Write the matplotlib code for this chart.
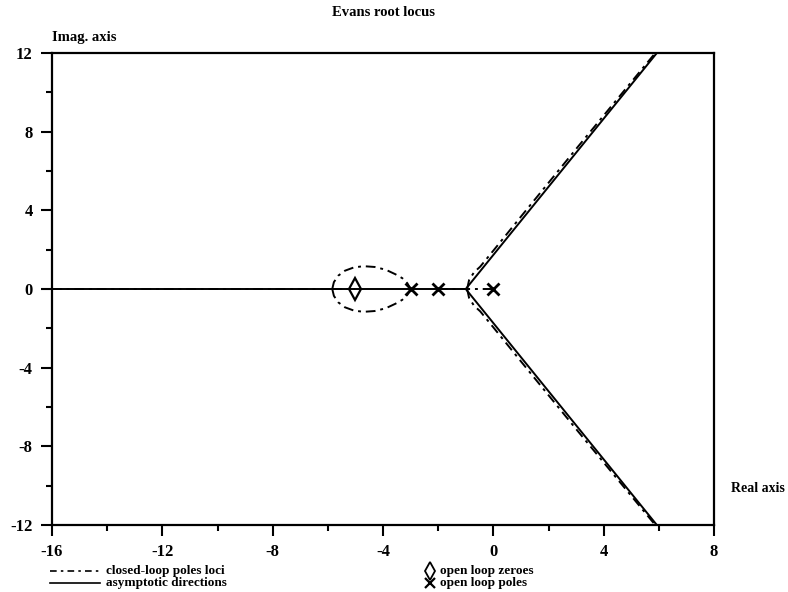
import numpy as np
import matplotlib
matplotlib.use("Agg")
import matplotlib.pyplot as plt
from matplotlib.ticker import MultipleLocator

plt.rcParams['font.family'] = ['Liberation Serif', 'DejaVu Serif']
plt.rcParams['font.weight'] = 'bold'
plt.rcParams['axes.unicode_minus'] = False

# open loop poles / zeros
poles_re = [0, -2, -3]
poles_im = [0, 0, 0]
zeros_re = [-5]
zeros_im = [0]

# loci (upper half, mirrored for lower)
loop_x = [-5.84, -5.78, -5.62, -5.38, -5.05, -4.7, -4.3, -3.9, -3.55, -3.3, -3.12, -3.0]
loop_y = [0.0, 0.35, 0.68, 0.93, 1.1, 1.16, 1.12, 0.98, 0.75, 0.55, 0.3, 0.0]
branch_x = [-0.95, -0.88, -0.7, -0.48, 0.0, 1.0, 2.0, 3.0, 4.0, 5.0, 6.0]
branch_y = [0.0, 0.45, 0.85, 1.13, 1.95, 3.68, 5.4, 7.12, 8.82, 10.52, 12.22]
real_segs = [(-16, -5.84), (-5.84, -5.0), (-2.0, 0.0)]

# asymptotes
asym_center = -1.0
asym_angles = [60, 180, -60]
asym_len = 16

fig = plt.figure(figsize=(7.88, 5.92), dpi=100)
ax = fig.add_axes([52/788, 1-525/592, 662/788, 472/592])

lw = 1.4
dashdot = (0, (5, 2.5, 1.5, 2.5))
for a in asym_angles:
    t = np.deg2rad(a)
    ax.plot([asym_center, asym_center + asym_len*np.cos(t)],
            [0, asym_len*np.sin(t)], color='black', lw=lw, solid_capstyle='butt')

ax.plot(loop_x, loop_y, color='black', lw=lw, ls=dashdot)
ax.plot(loop_x, -np.array(loop_y), color='black', lw=lw, ls=dashdot)
ax.plot(branch_x, branch_y, color='black', lw=lw, ls=dashdot)
ax.plot(branch_x, -np.array(branch_y), color='black', lw=lw, ls=dashdot)
for a, b in real_segs:
    ax.plot([a, b], [0, 0], color='black', lw=lw, ls=dashdot)

ax.plot(zeros_re, zeros_im, ls='none', marker='d', ms=11, mfc='none', mec='black', mew=1.6)
ax.plot(poles_re, poles_im, ls='none', marker='x', ms=9, mec='black', mew=2)

ax.set_xlim(-16, 8)
ax.set_ylim(-12, 12)
ax.xaxis.set_major_locator(MultipleLocator(4))
ax.xaxis.set_minor_locator(MultipleLocator(2))
ax.yaxis.set_major_locator(MultipleLocator(4))
ax.yaxis.set_minor_locator(MultipleLocator(2))
ax.tick_params(which='major', direction='out', length=8, width=1.5, labelsize=12, pad=6)
ax.tick_params(which='minor', direction='out', length=4, width=1.5)
for s in ax.spines.values():
    s.set_linewidth(1.6)
for lab in ax.get_xticklabels() + ax.get_yticklabels():
    lab.set_fontweight('bold')

fig.text(383/788, 1-12/592, 'Evans root locus', ha='center', va='center', fontsize=10.5, fontweight='bold')
fig.text(52/788, 1-38/592, 'Imag. axis', ha='left', va='center', fontsize=10.5, fontweight='bold')
fig.text(731/788, 1-489/592, 'Real axis', ha='left', va='center', fontsize=10, fontweight='bold')

# legend drawn at the bottom
ly1 = 1-571/592
ly2 = 1-583/592
fig.add_artist(plt.Line2D([50/788, 100/788], [ly1, ly1], color='black', lw=1.2, ls=(0, (4, 2.5, 1.5, 2.5))))
fig.add_artist(plt.Line2D([50/788, 100/788], [ly2, ly2], color='black', lw=1.2))
fig.text(106/788, ly1, 'closed-loop poles loci', ha='left', va='center', fontsize=9.5, fontweight='bold')
fig.text(106/788, ly2, 'asymptotic directions', ha='left', va='center', fontsize=9.5, fontweight='bold')
fig.add_artist(plt.Line2D([430/788], [ly1], ls='none', marker='d', ms=9, mfc='none', mec='black', mew=1.3))
fig.add_artist(plt.Line2D([430/788], [ly2], ls='none', marker='x', ms=7, mec='black', mew=1.6))
fig.text(440/788, ly1, 'open loop zeroes', ha='left', va='center', fontsize=9.5, fontweight='bold')
fig.text(440/788, ly2, 'open loop poles', ha='left', va='center', fontsize=9.5, fontweight='bold')

fig.savefig('out.png', dpi=100)
plt.close(fig)
